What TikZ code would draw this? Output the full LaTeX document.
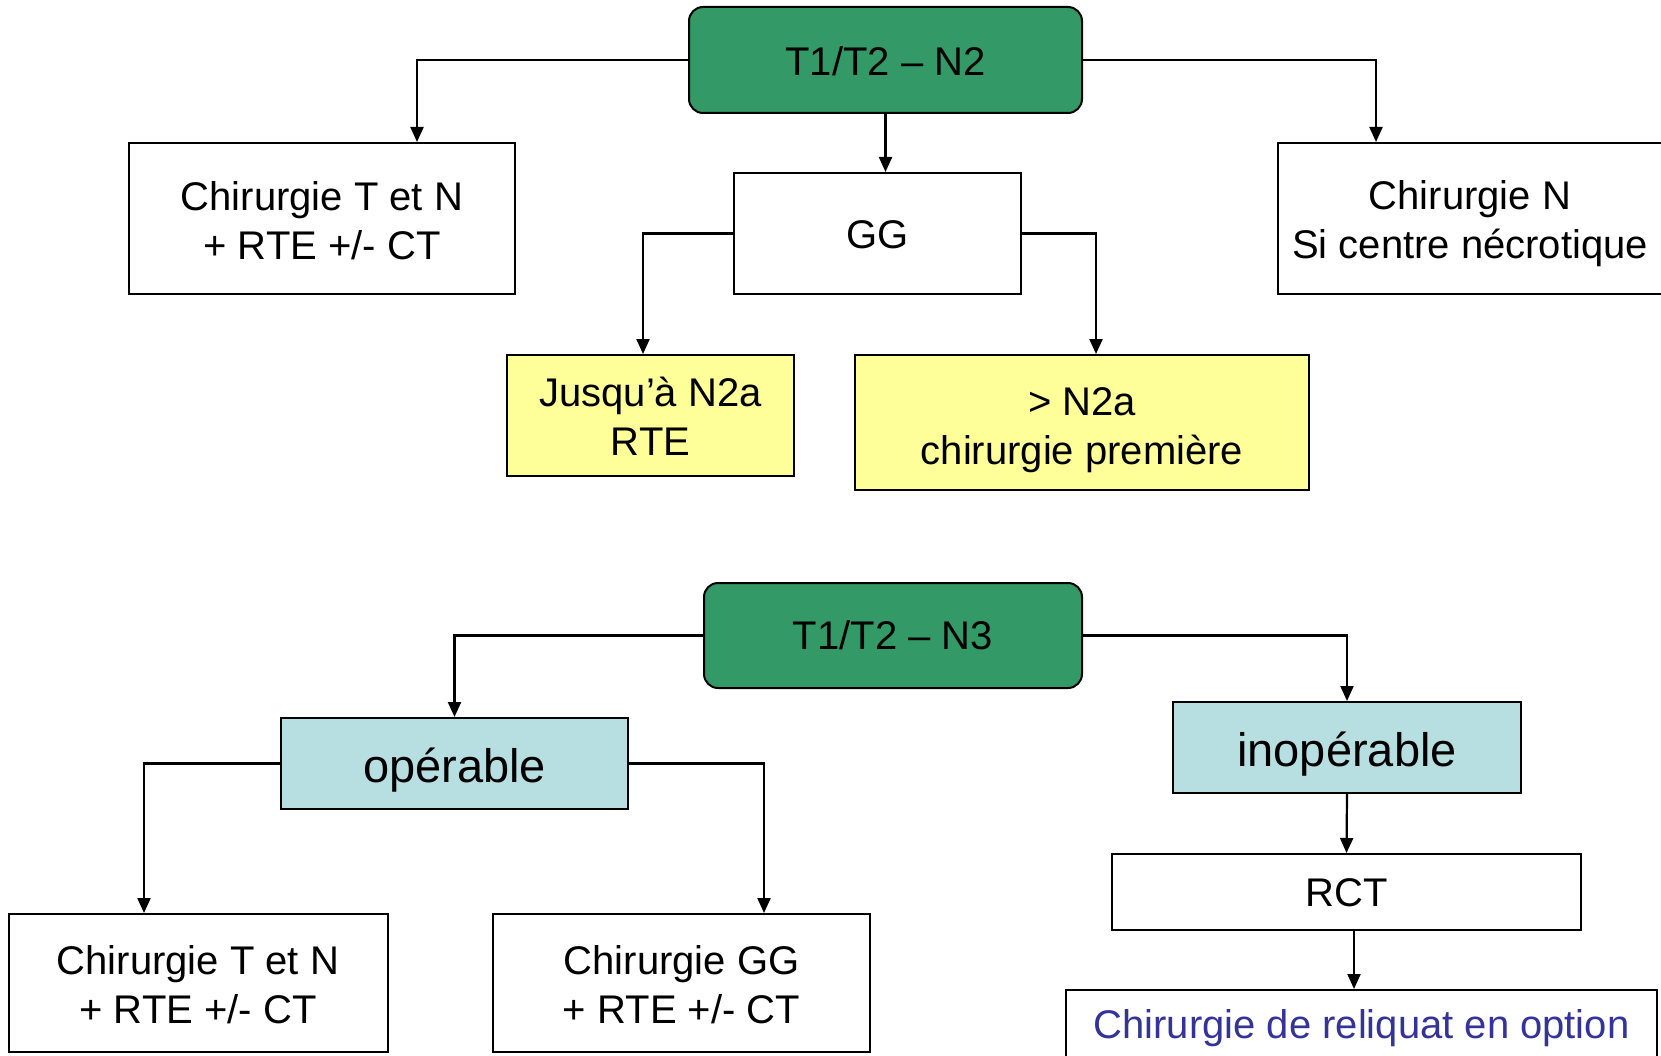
\documentclass[tikz,border=0pt]{standalone}
\usepackage{fontspec}
\setmainfont{Liberation Sans}
\usetikzlibrary{arrows.meta}
\definecolor{headgreen}{RGB}{51,153,102}
\definecolor{paleyellow}{RGB}{255,255,153}
\definecolor{paleblue}{RGB}{183,222,225}
\definecolor{textblue}{RGB}{51,51,153}
\begin{document}
\begin{tikzpicture}[x=1pt,y=-1pt,
  box/.style={draw=black,line width=2pt,fill=white,inner sep=0pt},
  head/.style={box,fill=headgreen,rounded corners=14pt},
  choice/.style={box,fill=paleyellow},
  status/.style={box,fill=paleblue},
  txt/.style={inner sep=0pt,align=center,font=\fontsize{40}{49}\selectfont},
  bigtxt/.style={txt,font=\fontsize{47}{54}\selectfont},
  link/.style={line width=2.2pt,-{Triangle[width=13pt,length=15pt]}}]
\useasboundingbox (0,0) rectangle (1661,1056);
\clip (0,0) rectangle (1661,1056);
\fill[white] (0,0) rectangle (1661,1056);

% upper tree: T1/T2 - N2
\node[head,minimum width=393pt,minimum height=106pt] (n2) at (885.5,60) {};
\node[box,minimum width=386pt,minimum height=151pt] (ctnA) at (322,218.5) {};
\node[box,minimum width=287pt,minimum height=121pt] (gg) at (877.5,233.5) {};
\node[box,minimum width=384pt,minimum height=151pt] (chn) at (1470,218.5) {};
\node[choice,minimum width=287pt,minimum height=121pt] (jus) at (650.5,415.5) {};
\node[choice,minimum width=454pt,minimum height=135pt] (sup) at (1082,422.5) {};

\node[txt] (n2-t) at ([yshift=-1pt]n2.center) {T1/T2 – N2};
\node[txt] (ctnA-t) at ([yshift=-2pt]ctnA.center) {Chirurgie T et N\\+ RTE +/- CT};
\node[txt] (gg-t) at ([yshift=-1pt]gg.center) {GG};
\node[txt] (chn-t) at ([yshift=-5.5pt]chn.center) {Chirurgie N\\Si centre nécrotique};
\node[txt] (jus-t) at ([yshift=-1pt]jus.center) {Jusqu’à N2a\\RTE};
\node[txt] (sup-t) at ([yshift=-8pt]sup.center) {> N2a\\chirurgie première};

\draw[link] (n2.west) -| ([xshift=95pt]ctnA.north);
\draw[link] (n2.south) -- (n2.south |- gg.north);
\draw[link] (n2.east) -| ([xshift=-94pt]chn.north);
\draw[link] (gg.west) -| ([xshift=-7.5pt]jus.north);
\draw[link] (gg.east) -| ([xshift=14pt]sup.north);

% lower tree: T1/T2 - N3
\node[head,minimum width=378pt,minimum height=105pt] (n3) at (893,635.5) {};
\node[status,minimum width=347pt,minimum height=91pt] (ope) at (454.5,763.5) {};
\node[status,minimum width=348pt,minimum height=91pt] (ino) at (1347,747.5) {};
\node[box,minimum width=469pt,minimum height=76pt] (rct) at (1346.5,892) {};
\node[box,minimum width=591pt,minimum height=70pt] (rel) at (1361.5,1025) {};
\node[box,minimum width=379pt,minimum height=138pt] (ctnB) at (198,983) {};
\node[box,minimum width=377pt,minimum height=138pt] (cgg) at (681.5,983) {};

\node[txt] (n3-t) at (n3.center) {T1/T2 – N3};
\node[bigtxt] (ope-t) at ([yshift=-6.5pt]ope.center) {opérable};
\node[bigtxt] (ino-t) at ([yshift=-6.5pt]ino.center) {inopérable};
\node[txt] (rct-t) at ([yshift=-1pt]rct.center) {RCT};
\node[txt,text=textblue] (rel-t) at ([yshift=-3pt]rel.center) {Chirurgie de reliquat en option};
\node[txt] (ctnB-t) at ([yshift=-2pt]ctnB.center) {Chirurgie T et N\\+ RTE +/- CT};
\node[txt] (cgg-t) at ([yshift=-2pt]cgg.center) {Chirurgie GG\\+ RTE +/- CT};

\draw[link] (n3.west) -| (ope.north);
\draw[link] (n3.east) -| (ino.north);
\draw[link] (ope.west) -| ([xshift=-54pt]ctnB.north);
\draw[link] (ope.east) -| ([xshift=82.5pt]cgg.north);
\draw[link] (ino.south) -- (rct.north);
\draw[link] ([xshift=7.5pt]rct.south) -- ([xshift=7.5pt]rct.south |- rel.north);
\end{tikzpicture}
\end{document}
